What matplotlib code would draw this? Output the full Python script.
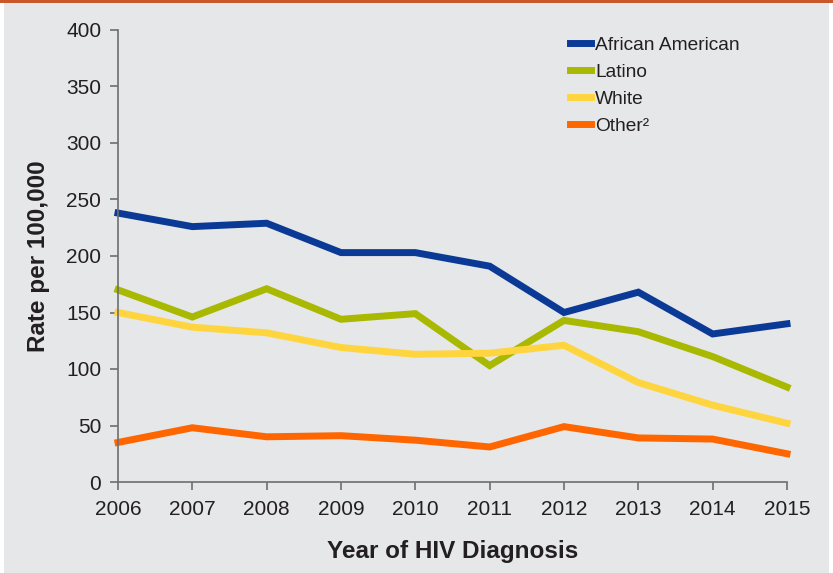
import numpy as np
import matplotlib.pyplot as plt
from matplotlib.patches import Rectangle

plt.rcParams['font.family'] = ['Liberation Sans', 'DejaVu Sans']

years = [2006, 2007, 2008, 2009, 2010, 2011, 2012, 2013, 2014, 2015]
african_american = [238, 226, 229, 203, 203, 191, 150, 168, 131, 140]
latino = [170, 146, 171, 144, 149, 103, 143, 133, 111, 84]
white = [150, 137, 132, 119, 113, 114, 121, 88, 68, 52]
other = [35, 48, 40, 41, 37, 31, 49, 39, 38, 25]

series = [
    ("African American", african_american, "#0B3A96"),
    ("Latino", latino, "#A9B800"),
    ("White", white, "#FFD53F"),
    ("Other²", other, "#FF6600"),
]

bg = "#E6E7E8"
fig = plt.figure(figsize=(8.33, 5.73), dpi=100)
fig.patch.set_facecolor("white")
# grey panel and orange top strip
fig.patches.append(Rectangle((4/833, 0), 825/833, 1, transform=fig.transFigure,
                             facecolor=bg, edgecolor="none", zorder=-10))
fig.patches.append(Rectangle((0, 1 - 3/573), 1, 3/573, transform=fig.transFigure,
                             facecolor="#C9572B", edgecolor="none", zorder=-5))

ax = fig.add_axes([118/833, 1 - 482/573, 669/833, 452/573])
ax.set_facecolor("none")

for name, vals, col in series:
    ax.plot(years, vals, color=col, lw=5, label=name, solid_joinstyle="miter", clip_on=False)

ax.set_xlim(2006, 2015)
ax.set_ylim(0, 400)
ax.set_xticks(years)
ax.set_yticks(np.arange(0, 401, 50))
for s in ["top", "right"]:
    ax.spines[s].set_visible(False)
for s in ["left", "bottom"]:
    ax.spines[s].set_color("#6D6E71")
    ax.spines[s].set_linewidth(1.2)
ax.tick_params(colors="#6D6E71", labelcolor="#231F20", labelsize=15, length=6, width=1.2)
ax.tick_params(axis="x", pad=7)
ax.tick_params(axis="y", pad=6)

ax.set_xlabel("Year of HIV Diagnosis", fontsize=17.5, fontweight="bold", color="#231F20", labelpad=15)
ax.set_ylabel("Rate per 100,000", fontsize=17.5, fontweight="bold", color="#231F20", labelpad=12)

ax.legend(loc="upper left", bbox_to_anchor=(553/833, 1 - 19/573), bbox_transform=fig.transFigure,
          frameon=False, fontsize=13.8, handlelength=1.1, handletextpad=0.2, labelspacing=0.5,
          labelcolor="#231F20")

fig.savefig("out.png", dpi=100)
